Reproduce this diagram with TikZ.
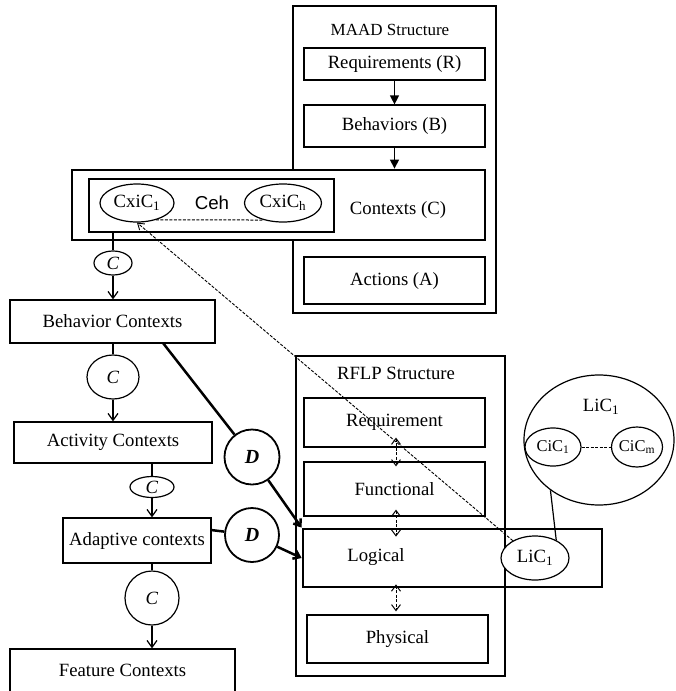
\documentclass[tikz,border=0pt]{standalone}
\usepackage{fontspec}
\setmainfont{Liberation Serif}
\newfontfamily\sansf{Liberation Sans}
\usetikzlibrary{shapes.geometric,arrows.meta}
\begin{document}
\begin{tikzpicture}[x=1pt,y=-1pt,
 every node/.style={font=\fontsize{18.7}{21}\selectfont,inner sep=0pt},
 thinbox/.style={draw,line width=1.2pt,fill=white},
 thickbox/.style={draw,line width=2.8pt},
 ell/.style={draw,ellipse,line width=1.2pt,inner sep=0pt,fill=white},
 tri/.style={-{Triangle[length=9pt,width=9pt]},line width=1.2pt},
 varr/.style={-{Straight Barb[length=7pt,width=10pt]},line width=1.2pt},
 darr/.style={{Straight Barb[length=6pt,width=9pt]}-{Straight Barb[length=6pt,width=9pt]},line width=1pt,dash pattern=on 3pt off 1.5pt},
 dline/.style={line width=2.5pt},
 darrow/.style={line width=2.5pt,-{Straight Barb[length=6pt,width=9pt]}},
 small/.style={font=\fontsize{16.5}{18}\selectfont},
]
\useasboundingbox (0,0) rectangle (675,691);
\fill[white] (0,0) rectangle (675,691);

% ---------- MAAD structure ----------
\node[thickbox,minimum width=203pt,minimum height=307pt] (maad) at (394.5,159.5) {};
\node[font=\fontsize{17}{20}\selectfont] (maadt) at (390,30) {MAAD Structure};
\node[thinbox,minimum width=181pt,minimum height=32pt] (req) at (394.5,64) {Requirements (R)};
\node[thinbox,minimum width=181pt,minimum height=42pt] (beh) at (394.5,126) {Behaviors (B)};
\node[thinbox,minimum width=181pt,minimum height=47pt] (act) at (394.5,280.5) {Actions (A)};
\draw[tri] (req) -- (beh);

\node[thickbox,fill=white,minimum width=413pt,minimum height=70pt] (ctx) at (278.5,205) {};
\draw[tri] (beh.south) -- (beh.south |- ctx.north);
\node (ctxt) at (398,210) {Contexts (C)};
\node[thinbox,minimum width=245pt,minimum height=53pt] (inbox) at (211.5,205.5) {};
\node[ell,minimum width=74pt,minimum height=38pt] (cx1) at (137,203) {CxiC\textsubscript{1}};
\node[ell,minimum width=77pt,minimum height=38pt] (cxh) at (283,203) {CxiC\textsubscript{h}};
\node (ceh) at (212,203) {\sansf Ceh};
\draw[line width=1pt,dash pattern=on 3pt off 1.5pt] (cx1.-42) -- (cx1.-42 -| cxh.west) -- (cxh.-138);

% ---------- left column ----------
\node[ell,minimum width=38pt,minimum height=24pt] (c1) at (113,263) {\textit{C}};
\node[thinbox,minimum width=205pt,minimum height=43pt] (bc) at (112.5,321.5) {Behavior Contexts};
\node[ell,minimum width=52pt,minimum height=44pt] (c2) at (113,377) {\textit{C}};
\node[thinbox,minimum width=198pt,minimum height=41pt] (ac) at (113,442.5) {Activity Contexts};
\node[ell,minimum width=44pt,minimum height=21pt] (c3) at (152,487) {\textit{C}};
\node[thinbox,minimum width=148pt,minimum height=45pt] (adc) at (137,540.5) {Adaptive contexts};
\node[ell,minimum width=54pt,minimum height=54pt] (c4) at (152,598) {\textit{C}};
\node[thinbox,minimum width=225pt,minimum height=52pt] (fc) at (122.5,675) {};
\node (fct) at (122.5,670) {Feature Contexts};

\draw[line width=1.2pt] (c1.north |- inbox.south) -- (c1);
\draw[varr] (c1) -- (c1 |- bc.north);
\draw[line width=1.2pt] (c2.north |- bc.south) -- (c2);
\draw[varr] (c2) -- (c2 |- ac.north);
\draw[line width=1.2pt] (c3.north |- ac.south) -- (c3);
\draw[varr] (c3) -- (c3 |- adc.north);
\draw[line width=1.2pt] (c4.north |- adc.south) -- (c4);
\draw[varr] (c4) -- (c4 |- fc.north);

% ---------- RFLP structure ----------
\node[thickbox,minimum width=209pt,minimum height=320pt] (rflp) at (400.5,516) {};
\node (rflpt) at (396,373) {RFLP Structure};
\node[thinbox,minimum width=181pt,minimum height=49pt] (rq) at (394.5,422.5) {Requirement};
\node[thinbox,minimum width=181pt,minimum height=54pt] (fn) at (394.5,489) {Functional};
\node[thickbox,minimum width=299pt,minimum height=58pt] (lg) at (452.5,558) {};
\node (lgt) at (376,557) {Logical};
\node[thinbox,minimum width=181pt,minimum height=48pt] (ph) at (397.5,639) {Physical};
\draw[darr] ([xshift=1.5pt,yshift=10pt]rq.south) -- ([xshift=1.5pt,yshift=-5pt]fn.north);
\draw[darr] ([xshift=1.5pt,yshift=7pt]fn.south) -- ([xshift=1.5pt,yshift=-9pt]fn.south |- lg.north);
\draw[darr] ([xshift=1.5pt,yshift=4pt]fn.south |- lg.south) -- ([xshift=1.5pt,yshift=3pt]fn.south |- ph.north);

% ---------- D links ----------
\node[draw,circle,line width=1.8pt,minimum size=55pt,fill=white,font=\fontsize{20}{22}\selectfont] (d1) at (252,457) {\textbf{\textit{D}}};
\node[draw,circle,line width=1.8pt,minimum size=54pt,fill=white,font=\fontsize{20}{22}\selectfont] (d2) at (252,535) {\textbf{\textit{D}}};
\coordinate (bcD) at (163,343);
\coordinate (adcD) at (211,530);
\draw[dline] (bcD) -- (d1);
\draw[darrow] (d1) -- (lg.north west);
\draw[dline] (adcD) -- (d2);
\draw[darrow] (d2) -- (lg.west);

% ---------- LiC ----------
\node[ell,minimum width=150pt,minimum height=130pt] (big) at (599,440) {};
\node (bigt) at (601,407) {LiC\textsubscript{1}};
\node[ell,small,minimum width=56pt,minimum height=38pt] (cic1) at (553,447) {CiC\textsubscript{1}};
\node[ell,small,minimum width=45pt,minimum height=40pt] (cicm) at (637,447) {CiC\textsubscript{m}};
\draw[line width=1pt,dash pattern=on 3pt off 1.5pt] (cic1) -- (cicm);
\node[ell,minimum width=68pt,minimum height=44pt] (lic) at (535,558) {LiC\textsubscript{1}};
\draw[line width=1.2pt] (lic.40) -- (big.226);
\draw[line width=0.9pt,dash pattern=on 3pt off 1.5pt,-{Straight Barb[length=6pt,width=8pt]}] (lic.142) -- (cx1.south);
\end{tikzpicture}
\end{document}
